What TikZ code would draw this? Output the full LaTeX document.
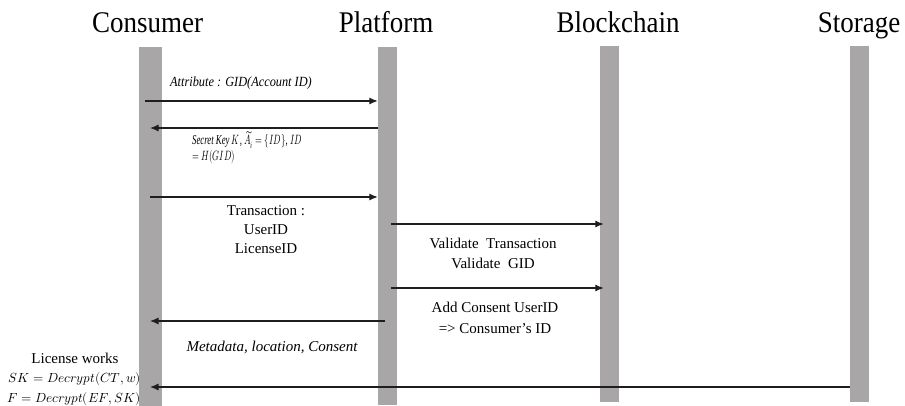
\documentclass[tikz,border=0pt]{standalone}
\usepackage{fontspec}
\usepackage{unicode-math}
\setmainfont{Liberation Serif}
\setmathfont{Latin Modern Math}
\usetikzlibrary{arrows.meta}
\definecolor{bargray}{RGB}{168,166,167}
\definecolor{ink}{RGB}{30,30,30}
\tikzset{
  lifebar/.style={fill=bargray, draw=none, inner sep=0pt, anchor=north},
  title/.style={anchor=base, inner sep=0pt, font=\fontsize{30}{34}\selectfont},
  msg/.style={draw=ink, line width=1.1pt, -{Latex[length=8.5pt,width=7pt]}},
  lbl/.style={inner sep=0pt, font=\fontsize{15}{19}\selectfont, align=center},
  ilbl/.style={inner sep=0pt, font=\fontsize{15}{19}\selectfont\itshape, align=center},
}
\begin{document}
\begin{tikzpicture}[x=1pt,y=-1pt]
\useasboundingbox (0,0) rectangle (905,406);
% titles
\node[title] (tc) at (147.5,33) {\scalebox{0.9}[1]{Consumer}};
\node[title] (tp) at (386,33) {\scalebox{0.9}[1]{Platform}};
\node[title] (tb) at (618,33) {\scalebox{0.9}[1]{Blockchain}};
\node[title] (ts) at (859,33) {\scalebox{0.9}[1]{Storage}};
% lifelines
\node[lifebar, minimum width=23pt, minimum height=359pt] (c) at (150.5,47) {};
\node[lifebar, minimum width=19pt, minimum height=358pt] (p) at (387.5,47) {};
\node[lifebar, minimum width=19pt, minimum height=356pt] (b) at (609.5,46) {};
\node[lifebar, minimum width=19pt, minimum height=356pt] (s) at (859.5,46) {};
% message heights
\coordinate (m1) at (0,101);
\coordinate (m2) at (0,128);
\coordinate (m3) at (0,197);
\coordinate (m4) at (0,224);
\coordinate (m5) at (0,288);
\coordinate (m6) at (0,321);
\coordinate (m7) at (0,387);
\coordinate (cs) at (145,0);
\coordinate (ce) at (150,0);
\coordinate (ps) at (391,0);
\coordinate (pm) at (385,0);
% messages
\draw[msg] (cs |- m1) -- (p.west |- m1);
\draw[msg] (p.west |- m2) -- (ce |- m2);
\draw[msg] (ce |- m3) -- (p.west |- m3);
\draw[msg] (ps |- m4) -- ([xshift=4pt]b.west |- m4);
\draw[msg] (ps |- m5) -- ([xshift=4pt]b.west |- m5);
\draw[msg] (pm |- m6) -- (ce |- m6);
\draw[msg] (s.west |- m7) -- (ce |- m7);
% labels
\node[ilbl, anchor=west, font=\fontsize{14}{16}\selectfont\itshape] (l1) at (170,83) {\scalebox{0.88}[1]{Attribute : GID(Account ID)}};
\node[ilbl, anchor=north west, align=left, font=\fontsize{13.5}{15.5}\selectfont\itshape] (l2) at (192,131)
  {\scalebox{0.65}[1]{Secret Key $K$, $\widetilde{A}_i=\{ID\}$, $ID$}\\\scalebox{0.65}[1]{$=H(GID)$}};
\node[lbl, font=\fontsize{15}{19}\selectfont] (l3) at (266,229.5) {Transaction :\\UserID\\LicenseID};
\node[lbl, font=\fontsize{15}{20}\selectfont] (l4) at (493,253) {Validate~ Transaction\\Validate~ GID};
\node[lbl, font=\fontsize{15}{21}\selectfont] (l5) at (495,317.5) {Add Consent UserID\\={}> Consumer's ID};
\node[ilbl] (l6) at (272,347) {Metadata, location, Consent};
\node[lbl, anchor=north east, font=\fontsize{15}{20}\selectfont, align=right] (l7m) at (141,372)
  {\fontsize{13.2}{19}\selectfont$SK=Decrypt(CT,w)$\\\fontsize{13.2}{19}\selectfont$F=Decrypt(EF,SK)$};
\node[lbl, font=\fontsize{15}{20}\selectfont] (l7) at (75,358) {License works};
\end{tikzpicture}
\end{document}
